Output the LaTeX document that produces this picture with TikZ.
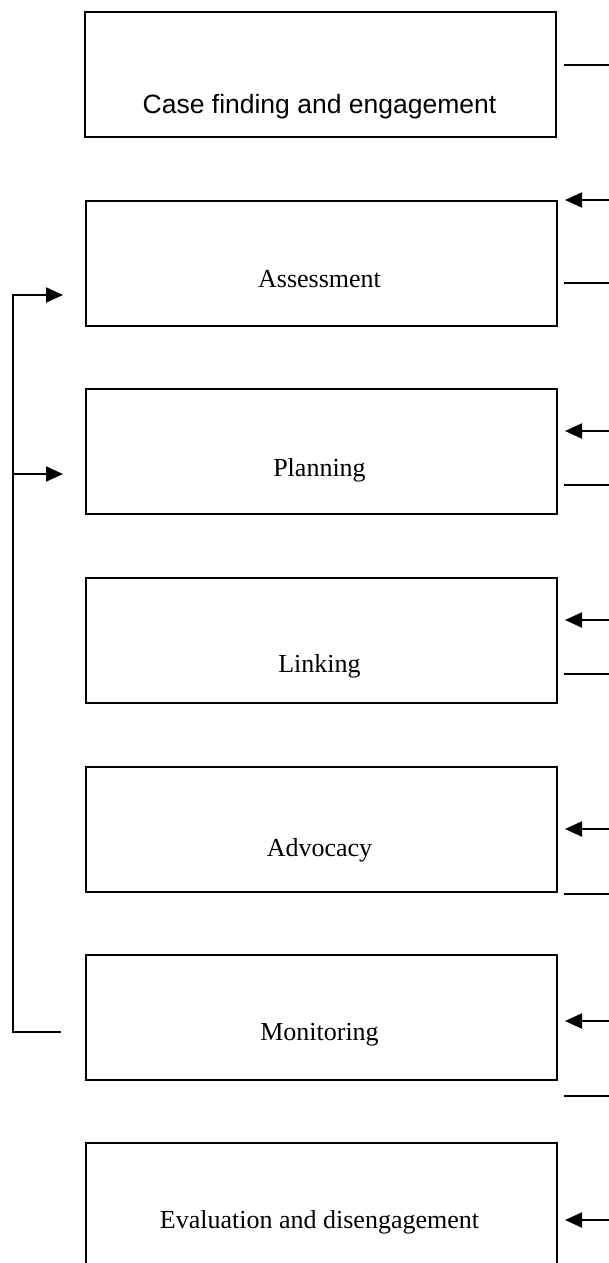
\documentclass[tikz,border=0pt]{standalone}
\usepackage{fontspec}
\setmainfont{Liberation Serif}
\newfontfamily\arialf{Liberation Sans}
\usetikzlibrary{arrows.meta}
\begin{document}
\begin{tikzpicture}[x=1pt,y=-1pt,
 box/.style={draw,line width=2.2pt,minimum width=471pt,minimum height=125pt,anchor=north west,inner sep=0pt},
 lbl/.style={font=\fontsize{26}{30}\selectfont,inner sep=0pt,anchor=base},
 conn/.style={line width=2pt},
 arr/.style={line width=2pt,-{Triangle[length=17pt,width=15pt]}}]
\useasboundingbox (0,0) rectangle (609,1263);
\clip (0,0) rectangle (609,1263);
% boxes
\node[box] (b1) at (84,11) {};
\node[box] (b2) at (85,200) {};
\node[box] (b3) at (85,388) {};
\node[box] (b4) at (85,577) {};
\node[box] (b5) at (85,766) {};
\node[box] (b6) at (85,954) {};
\node[box,minimum height=140pt] (b7) at (85,1142) {};
% labels
\node[lbl,font=\arialf\fontsize{26.5}{30}\selectfont] (t1) at (319.5,113) {Case finding and engagement};
\node[lbl] (t2) at (319.5,287) {Assessment};
\node[lbl] (t3) at (319.5,476) {Planning};
\node[lbl] (t4) at (319.5,672) {Linking};
\node[lbl] (t5) at (319.5,856) {Advocacy};
\node[lbl] (t6) at (319.5,1040) {Monitoring};
\node[lbl] (t7) at (319.5,1228) {Evaluation and disengagement};
% right side coordinates
\coordinate (r1a) at (564,65);  \coordinate (r1b) at (610,65);
\coordinate (r2i) at (610,200); \coordinate (r2t) at (565,200);
\coordinate (r2a) at (564,283); \coordinate (r2b) at (610,283);
\coordinate (r3i) at (610,431); \coordinate (r3t) at (565,431);
\coordinate (r3a) at (564,485); \coordinate (r3b) at (610,485);
\coordinate (r4i) at (610,620); \coordinate (r4t) at (565,620);
\coordinate (r4a) at (564,674); \coordinate (r4b) at (610,674);
\coordinate (r5i) at (610,829); \coordinate (r5t) at (565,829);
\coordinate (r5a) at (564,894); \coordinate (r5b) at (610,894);
\coordinate (r6i) at (610,1021); \coordinate (r6t) at (565,1021);
\coordinate (r6a) at (564,1096); \coordinate (r6b) at (610,1096);
\coordinate (r7i) at (610,1220); \coordinate (r7t) at (565,1220);
\draw[conn] (r1a) -- (r1b);
\draw[arr] (r2i) -- (r2t);
\draw[conn] (r2a) -- (r2b);
\draw[arr] (r3i) -- (r3t);
\draw[conn] (r3a) -- (r3b);
\draw[arr] (r4i) -- (r4t);
\draw[conn] (r4a) -- (r4b);
\draw[arr] (r5i) -- (r5t);
\draw[conn] (r5a) -- (r5b);
\draw[arr] (r6i) -- (r6t);
\draw[conn] (r6a) -- (r6b);
\draw[arr] (r7i) -- (r7t);
% left feedback loop
\coordinate (lm) at (61,1032);
\coordinate (lc) at (13,1032);
\coordinate (la) at (13,295);
\coordinate (at) at (63,295);
\coordinate (lp) at (13,474);
\coordinate (pt) at (63,474);
\draw[arr] (lm) -- (lc) -- (la) -- (at);
\draw[arr] (lp) -- (pt);
\end{tikzpicture}
\end{document}
